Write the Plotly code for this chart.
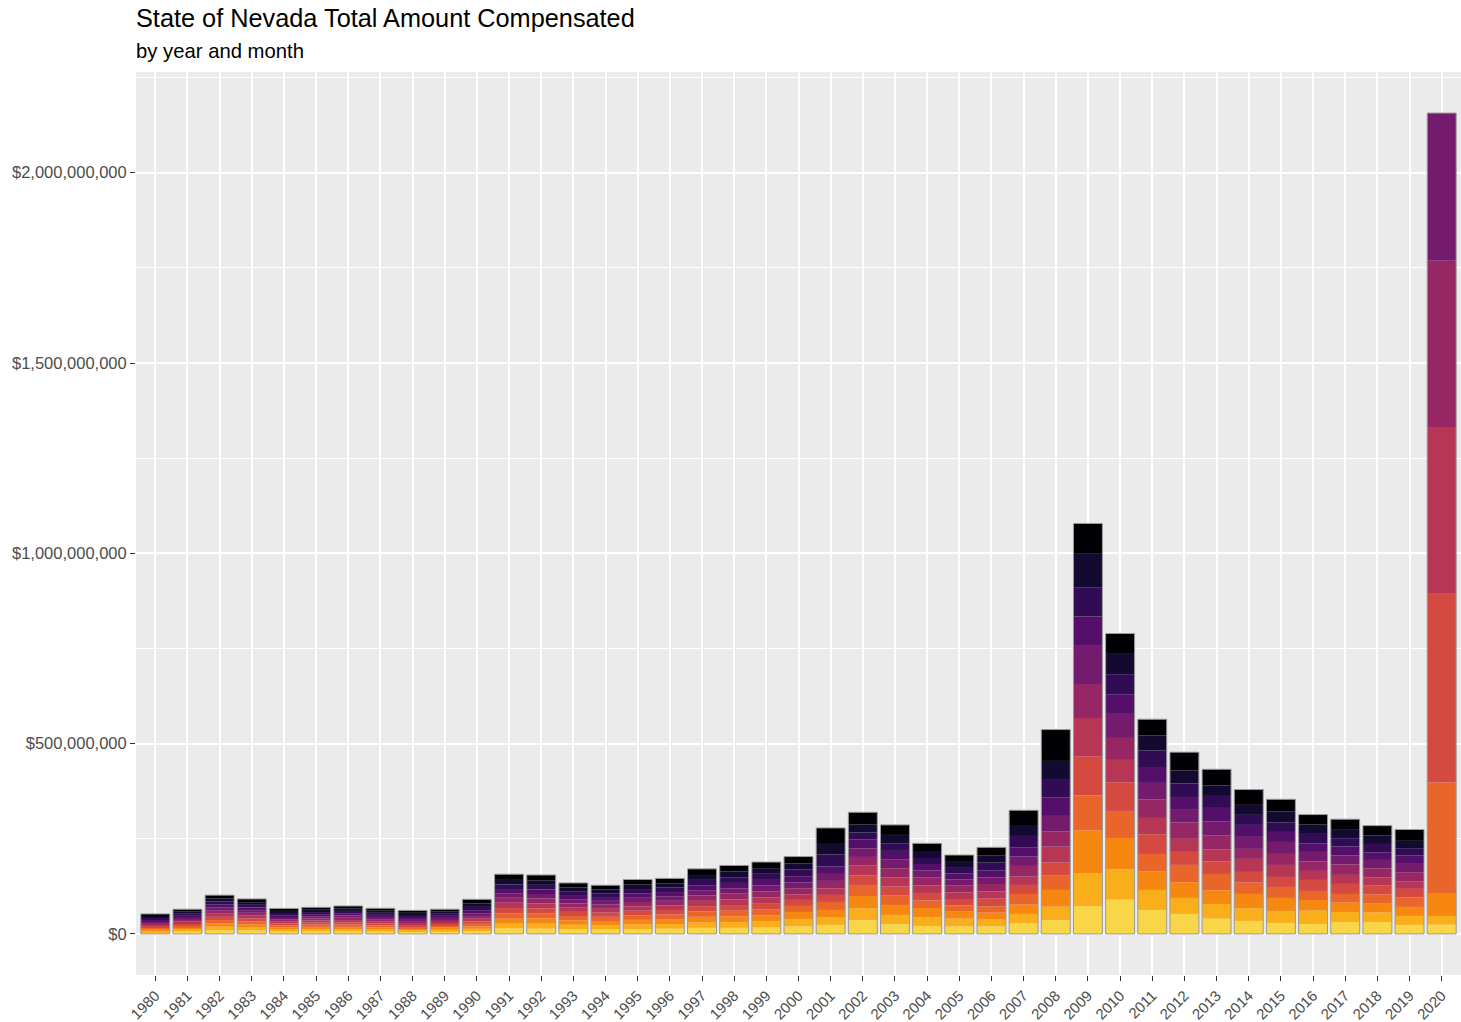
import plotly.graph_objects as go

# ---------------- data (millions of dollars) ----------------
years = list(range(1980, 2021))
year_labels = [str(y) for y in years]
month_names = ["Jan", "Feb", "Mar", "Apr", "May", "Jun",
               "Jul", "Aug", "Sep", "Oct", "Nov", "Dec"]

january = [5, 6, 10, 9, 6, 6.5, 6.5, 6, 5.5, 5.5, 7,
           15, 14, 13, 12, 13, 14, 16, 16, 17,
           20.1, 23.7, 35.9, 25.4, 21, 20.1, 20.1, 28.9, 35.9, 72.7,
           90.2, 63, 52.6, 40.3, 34.2, 28.9, 26.3, 31.5, 31.5, 23.7,
           24.4]
february = [4.5, 5.5, 9, 8, 5.5, 6, 6, 5.5, 5, 5.5, 6.5,
            12, 13, 11, 11, 12, 12, 14, 15, 16,
            19.3, 19.3, 31.5, 24.5, 22.8, 20.1, 17.5, 23.7, 35.9, 85.8,
            79.7, 52.6, 42, 38.5, 33.3, 31.5, 35, 26.3, 25.4, 23.7,
            22.9]
march = [4.5, 5.5, 9, 8, 5.5, 6, 6, 5.5, 5, 5.5, 6.5,
         13, 14, 12, 11, 12, 13, 15, 15, 16,
         18.4, 20.1, 32.4, 26.3, 24.5, 18.4, 18.4, 24.5, 43.8, 113,
         82.3, 49, 41.2, 35.9, 37.7, 34.2, 28, 24.5, 22.8, 23.7,
         60.4]
april = [4, 5, 8.5, 8, 5.5, 6, 6, 5.5, 5, 5.5, 6.5,
         14, 13, 11, 11, 12, 12, 14, 15, 16,
         15.8, 21, 28.9, 24.5, 20.1, 16.6, 16.6, 28, 37.7, 92,
         71, 45.6, 45.6, 42.9, 29.8, 28.9, 23.7, 22.8, 24.5, 25.4,
         290]
may = [4, 5, 8.5, 7.5, 5.5, 5.5, 6, 5.5, 5, 5, 6.5,
       14, 13, 11, 11, 12, 12, 14, 15, 16,
       15.8, 18.4, 25.4, 23.7, 19.3, 16.6, 20.1, 23.7, 34.2, 103.4,
       75.3, 51.7, 34.2, 33.3, 28, 26.3, 28.9, 26.3, 22.8, 21.9,
       498]
june = [4, 5, 8, 7.5, 5.5, 5.5, 6, 5.5, 5, 5, 7,
        14, 13, 11, 10, 11, 12, 14, 15, 15,
        14.9, 17.5, 25.4, 23.7, 20.1, 17.5, 19.3, 21.9, 42, 100.7,
        58.7, 42.9, 34.2, 30.7, 34.2, 31.5, 23.7, 23.7, 21, 20.1,
        436]
july = [4, 5.5, 8, 7.5, 5.5, 5.5, 6, 5.5, 5, 5, 7,
        13, 13, 11, 11, 12, 12, 14, 15, 16,
        15.8, 19.3, 22.8, 24.5, 20.1, 17.5, 19.3, 28, 39.4, 89.4,
        57.8, 48.2, 42.9, 37.7, 26.3, 28.9, 24.5, 27.2, 24.5, 23.7,
        437]
august = [4, 5, 8, 7, 5.5, 5.5, 6, 5.5, 5, 5, 7.5,
          12, 12, 10, 10, 11, 12, 14, 14, 15,
          14.9, 18.4, 22.8, 23.7, 19.3, 16.6, 17.5, 24.5, 41.2, 99.9,
          63.1, 43.8, 33.3, 35.9, 31.5, 31.5, 25.4, 23.7, 21.9, 21.9,
          388]
september = [4, 5, 8, 7, 5, 5.5, 6, 5.5, 5, 5.5, 8,
             11, 12, 10, 10, 11, 11, 13, 14, 15,
             16.6, 19.3, 22.8, 21.9, 16.6, 15.8, 17.5, 24.5, 49, 77.1,
             51.7, 39.4, 31.5, 35.9, 31.5, 26.3, 21.9, 23.7, 20.1, 21.9,
             None]
october = [4.5, 5.5, 8, 7, 5.5, 5.5, 6, 5.5, 5, 5.5, 8.5,
           12, 12, 11, 10, 12, 12, 14, 15, 16,
           17.5, 31.5, 18.4, 20.1, 15.8, 16.6, 21, 29.8, 45.6, 75.3,
           52.6, 45.6, 37.7, 31.5, 26.3, 24.5, 25.4, 21.9, 21.9, 19.3,
           None]
november = [4.5, 5.5, 8, 7, 5.5, 6, 6, 5.5, 5, 5.5, 9,
            12, 12, 11, 10, 12, 11, 13, 15, 15,
            15.8, 28, 21, 21.9, 18.4, 15.8, 18.4, 26.3, 49.9, 89.4,
            53.4, 39.4, 34.2, 27.2, 26.3, 29.8, 24.5, 21.9, 21.9, 19.3,
            None]
december = [5.6, 6.5, 9, 8.5, 6.5, 6.5, 7, 6.5, 6.5, 6.5, 11,
            15, 14, 12, 11, 13, 13, 16, 16, 16,
            18.4, 42, 32.4, 26.3, 20.1, 15.8, 21.9, 41.2, 82.3, 79.7,
            53.4, 42.9, 48.2, 42.9, 40.3, 31.5, 26.3, 28, 26.3, 29.8,
            None]

monthly = [january, february, march, april, may, june,
           july, august, september, october, november, december]

# ---------------- colours (inferno, reversed, end = 0.9) ----------------
inferno = ['#000004', '#1b0c41', '#4a0c6b', '#781c6d', '#a52c60',
           '#cf4446', '#ed6925', '#fb9b06', '#f7d13d', '#fcffa4']


def hex2rgb(h):
    h = h.lstrip('#')
    return [int(h[i:i + 2], 16) for i in (0, 2, 4)]


def sample(t):
    n = len(inferno) - 1
    pos = t * n
    i = min(int(pos), n - 1)
    f = pos - i
    a, b = hex2rgb(inferno[i]), hex2rgb(inferno[i + 1])
    c = [round(a[k] + (b[k] - a[k]) * f) for k in range(3)]
    return 'rgb(%d,%d,%d)' % tuple(c)


colors = [sample(0.9 * (11 - i) / 11) for i in range(12)]

# ---------------- figure ----------------
fig = go.Figure()
base = [0.0] * len(years)
for i, vals in enumerate(monthly):
    xs, ys, bs = [], [], []
    for j, v in enumerate(vals):
        if v is None:
            continue
        xs.append(years[j])
        ys.append(v * 1e6)
        bs.append(base[j])
        base[j] += v * 1e6
    fig.add_trace(go.Bar(x=xs, y=ys, base=bs, width=0.9, name=month_names[i],
                         marker=dict(color=colors[i], line=dict(width=0)),
                         showlegend=False))

totals = base
fig.add_trace(go.Bar(x=years, y=totals, base=[0] * len(years), width=0.9,
                     marker=dict(color='rgba(0,0,0,0)',
                                 line=dict(color='#9a9a9a', width=1)),
                     showlegend=False, hoverinfo='skip'))

ymax = max(totals)
W, H = 1461, 1022
mt, mb = 72, 47
ph = H - mt - mb

fig.update_layout(
    barmode='overlay',
    width=W, height=H,
    margin=dict(l=136, r=0, t=mt, b=mb),
    paper_bgcolor='white',
    plot_bgcolor='#EBEBEB',
    font=dict(family='Liberation Sans, Arial, sans-serif', color='#4D4D4D'),
    showlegend=False,
    annotations=[
        dict(text='State of Nevada Total Amount Compensated', xref='paper', yref='paper',
             x=0, y=1 + (mt - 18) / ph, xanchor='left', yanchor='middle', showarrow=False,
             xshift=-2, font=dict(size=25.3, color='black')),
        dict(text='by year and month', xref='paper', yref='paper',
             x=0, y=1 + (mt - 51) / ph, xanchor='left', yanchor='middle', showarrow=False,
             xshift=-2, font=dict(size=20.3, color='black')),
    ],
)

fig.update_xaxes(
    range=[years[0] - 0.6, years[-1] + 0.6],
    tickmode='array', tickvals=years, ticktext=year_labels,
    tickangle=-45, tickfont=dict(size=15, color='#4D4D4D'),
    ticks='outside', ticklen=5, tickcolor='#333333', tickwidth=1,
    showgrid=True, gridcolor='white', gridwidth=1.8,
    zeroline=False, showline=False, automargin=False,
)
fig.update_yaxes(
    range=[-0.05 * ymax, 1.05 * ymax],
    tick0=0, dtick=5e8, tickprefix='$', tickformat=',d',
    tickfont=dict(size=16.5, color='#4D4D4D'),
    ticks='outside', ticklen=5, tickcolor='#333333', tickwidth=1,
    showgrid=True, gridcolor='white', gridwidth=1.8,
    minor=dict(dtick=2.5e8, tick0=0, showgrid=True, gridcolor='white', gridwidth=0.9, ticks=''),
    zeroline=False, showline=False, automargin=False,
)

fig.write_html("out.html", config={'displayModeBar': False},
               post_script="document.body.style.margin='0px';")
